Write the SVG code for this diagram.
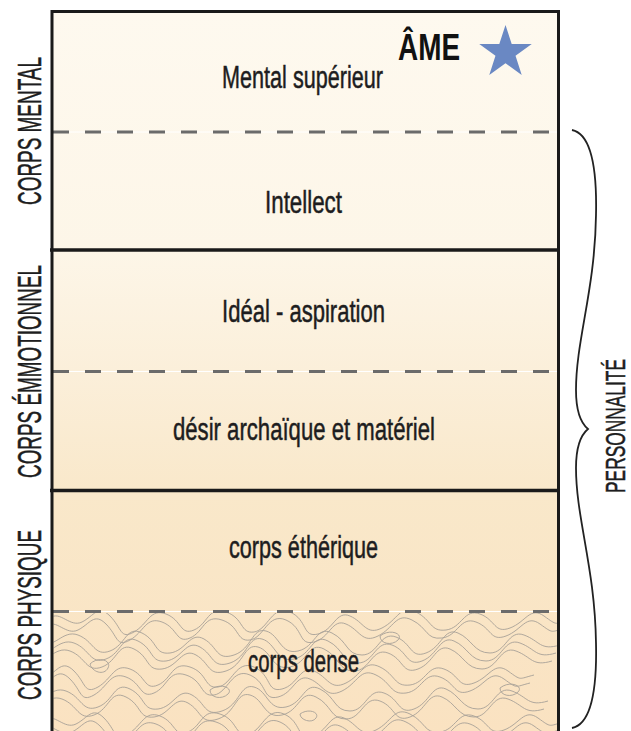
<svg xmlns="http://www.w3.org/2000/svg" width="631" height="731" viewBox="0 0 631 731">
<style>
.lbl{font-family:"Liberation Sans","DejaVu Sans",sans-serif;font-size:31px;fill:#1d1d20;stroke:#1d1d20;stroke-width:0.5;text-anchor:middle}
.side{font-family:"Liberation Sans","DejaVu Sans",sans-serif;font-size:33px;fill:#1d1d20;stroke:#1d1d20;stroke-width:0.5;text-anchor:middle}
.solid{stroke:#1a1a1a;stroke-width:3.5;fill:none}
.dashbase{stroke:#ffffff;stroke-width:1;fill:none}
.dash{stroke:#6b6b6b;stroke-width:3;stroke-dasharray:16 16;fill:none}
.topo{stroke:#a7a097;stroke-width:0.9;fill:none}
</style>
<defs>
<linearGradient id="bg" x1="0" y1="11" x2="0" y2="731" gradientUnits="userSpaceOnUse">
<stop offset="0" stop-color="#fef9ef"/>
<stop offset="0.33" stop-color="#fdf6e8"/>
<stop offset="0.5" stop-color="#fbefda"/>
<stop offset="0.67" stop-color="#f9e8ca"/>
<stop offset="1" stop-color="#fae2c1"/>
</linearGradient>
<path id="topoA" class="topo" d="M0,0 C10,-8 20,10 32,4 S48,-14 60,-2 S70,22 84,14 S100,-10 116,-4 S130,18 144,12 S158,-12 176,-6 S190,16 204,14 S222,-14 240,-6 S252,20 268,16 S286,-8 300,-2 S316,18 332,10 S350,-14 366,-6 S380,14 396,12 S414,-10 430,-4 S444,16 460,10 S480,-12 494,-2 S504,6 520,2"/>
<path id="topoB" class="topo" d="M0,0 C14,10 22,-12 38,-6 S54,16 70,10 S86,-16 102,-8 S114,14 130,12 S150,-10 164,-2 S176,20 194,14 S212,-14 226,-10 S240,14 258,10 S276,-16 292,-8 S306,14 322,14 S340,-10 356,-4 S370,18 386,12 S404,-14 418,-8 S434,12 450,12 S468,-12 484,-6 S500,10 520,4"/>
<clipPath id="denseclip"><rect x="53.5" y="613" width="503.5" height="125"/></clipPath>
</defs>

<g id="background">
<rect x="52" y="11" width="506" height="730" fill="url(#bg)"/>
<g clip-path="url(#denseclip)">
<use href="#topoA" x="50" y="618"/>
<use href="#topoA" x="46" y="626"/>
<use href="#topoB" x="40" y="641"/>
<use href="#topoB" x="36" y="649"/>
<use href="#topoB" x="32" y="657"/>
<use href="#topoA" x="14" y="673"/>
<use href="#topoA" x="10" y="681"/>
<use href="#topoB" x="28" y="697"/>
<use href="#topoB" x="24" y="705"/>
<use href="#topoA" x="44" y="720"/>
<use href="#topoA" x="40" y="728"/>
<path class="topo" d="M90,664 C98,656 112,660 108,668 S92,672 90,664 Z"/>
<path class="topo" d="M210,690 C220,682 234,688 228,694 S210,698 210,690 Z"/>
<path class="topo" d="M380,636 C390,628 404,634 398,640 S380,644 380,636 Z"/>
<path class="topo" d="M500,688 C510,680 524,686 518,692 S500,696 500,688 Z"/>
<path class="topo" d="M300,714 C308,708 320,712 316,718 S300,720 300,714 Z"/>
</g>
</g>

<g id="ame">
<text x="429" y="60" font-family="'Liberation Sans','DejaVu Sans',sans-serif" font-size="37" font-weight="bold" fill="#111" text-anchor="middle" textLength="62" lengthAdjust="spacingAndGlyphs">ÂME</text>
<polygon points="505.5,25 511.7,44.06 531.75,44.07 515.53,55.86 521.72,74.93 505.5,63.15 489.28,74.93 495.47,55.86 479.25,44.07 499.3,44.06" fill="#6a88c3"/>
</g>

<g id="mental-superieur">
<text class="lbl" x="302.5" y="88" textLength="161" lengthAdjust="spacingAndGlyphs">Mental supérieur</text>
</g>
<g id="intellect">
<text class="lbl" x="303.5" y="213" textLength="77" lengthAdjust="spacingAndGlyphs">Intellect</text>
</g>
<g id="ideal-aspiration">
<text class="lbl" x="303.5" y="322" textLength="163" lengthAdjust="spacingAndGlyphs">Idéal - aspiration</text>
</g>
<g id="desir">
<text class="lbl" x="304" y="440" textLength="262" lengthAdjust="spacingAndGlyphs">désir archaïque et matériel</text>
</g>
<g id="corps-etherique">
<text class="lbl" x="303.5" y="558" textLength="149" lengthAdjust="spacingAndGlyphs">corps éthérique</text>
</g>
<g id="corps-dense">
<text class="lbl" x="303.5" y="672" textLength="111" lengthAdjust="spacingAndGlyphs">corps dense</text>
</g>

<g id="dividers">
<line class="dashbase" x1="52" y1="132" x2="558" y2="132"/>
<line class="dash" x1="53" y1="132" x2="558" y2="132"/>
<line class="solid" x1="50" y1="250" x2="560" y2="250"/>
<line class="dashbase" x1="52" y1="371.5" x2="558" y2="371.5"/>
<line class="dash" x1="53" y1="371.5" x2="558" y2="371.5"/>
<line class="solid" x1="50" y1="490.5" x2="560" y2="490.5"/>
<line class="dashbase" x1="52" y1="611.5" x2="558" y2="611.5"/>
<line class="dash" x1="53" y1="611.5" x2="558" y2="611.5"/>
</g>

<g id="frame">
<path d="M52,745 L52,11.5 L558.5,11.5 L558.5,745" fill="none" stroke="#1a1a1a" stroke-width="3"/>
</g>

<g id="corps-mental">
<text class="side" transform="translate(41,131) rotate(-90)" textLength="148" lengthAdjust="spacingAndGlyphs">CORPS MENTAL</text>
</g>
<g id="corps-emotionnel">
<text class="side" transform="translate(41,371.5) rotate(-90)" textLength="213" lengthAdjust="spacingAndGlyphs">CORPS ÉMMOTIONNEL</text>
</g>
<g id="corps-physique">
<text class="side" transform="translate(41,615) rotate(-90)" textLength="170" lengthAdjust="spacingAndGlyphs">CORPS PHYSIQUE</text>
</g>

<g id="personnalite">
<path d="M572,130 C592,134 597,170 596,215 C595,290 576,340 576,390 C576,412 582,424 588,429 C582,434 576,446 576,468 C576,518 595,568 596,643 C597,688 592,724 572,728" fill="none" stroke="#222" stroke-width="1.8"/>
<text class="side" transform="translate(625,426) rotate(-90)" textLength="134" lengthAdjust="spacingAndGlyphs" style="font-size:28px">PERSONNALITÉ</text>
</g>
</svg>
